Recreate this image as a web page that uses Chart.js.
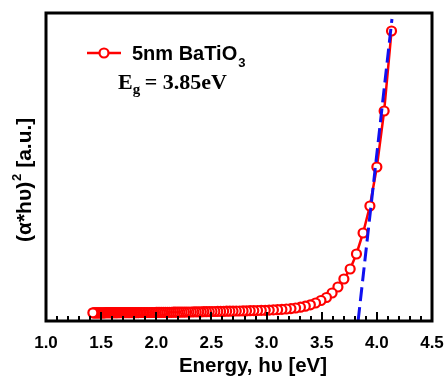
<!DOCTYPE html>
<html>
<head>
<meta charset="utf-8">
<script src="https://cdn.jsdelivr.net/npm/chart.js@4"></script>
<style>
html,body{margin:0;padding:0;background:#fff;}
#c{display:block;}
</style>
</head>
<body>
<canvas id="c" width="445" height="377"></canvas>
<script>
// Photon energy (eV), sample points
const energy = [
4.133,4.066,4.000,3.937,3.875,3.815,3.758,3.701,3.647,3.594,
3.543,3.493,3.444,3.397,3.351,3.307,3.263,3.221,3.179,3.139,
3.100,3.062,3.024,2.988,2.952,2.918,2.884,2.851,2.818,2.787,
2.756,2.725,2.696,2.667,2.638,2.611,2.583,2.557,2.531,2.505,
2.480,2.455,2.431,2.408,2.385,2.362,2.340,2.318,2.296,2.275,
2.255,2.234,2.214,2.195,2.175,2.157,2.138,2.120,2.102,2.084,
2.067,2.050,2.033,2.016,2.000,1.984,1.968,1.953,1.938,1.922,
1.908,1.893,1.879,1.865,1.851,1.837,1.824,1.810,1.797,1.784,
1.771,1.759,1.746,1.734,1.722,1.710,1.699,1.687,1.676,1.664,
1.653,1.642,1.632,1.621,1.610,1.600,1.590,1.580,1.570,1.560,
1.550,1.540,1.531,1.521,1.512,1.503,1.494,1.485,1.476,1.467,
1.459,1.450,1.442,1.434,1.425
];
// (alpha*h*nu)^2 in arbitrary units
const absorption = [
28.2,20.2,14.6,10.7,8.0,5.9,4.4,3.4,2.6,2.0,
1.55,1.25,1.0,0.82,0.68,0.58,0.5,0.44,0.4,0.36,
0.33,0.31,0.29,0.27,0.26,0.25,0.24,0.23,0.22,0.21,
0.2,0.2,0.19,0.18,0.18,0.17,0.16,0.16,0.15,0.15,
0.14,0.13,0.13,0.12,0.12,0.11,0.11,0.10,0.10,0.10,
0.09,0.09,0.09,0.08,0.08,0.08,0.07,0.07,0.07,0.07,
0.06,0.06,0.06,0.06,0.06,0.05,0.05,0.05,0.05,0.05,
0.05,0.05,0.05,0.05,0.05,0.04,0.04,0.04,0.04,0.04,
0.04,0.04,0.04,0.04,0.04,0.04,0.04,0.04,0.04,0.04,
0.03,0.03,0.03,0.03,0.03,0.03,0.03,0.03,0.03,0.03,
0.03,0.03,0.02,0.02,0.02,0.02,0.02,0.02,0.02,0.02,
0.02,0.02,0.02,0.02,0.02
];
// Linear fit (Tauc extrapolation)
const fitX = [3.83, 4.137];
const fitY = [-0.8, 29.4];
// Axis ticks
const xMajorTicks = [1.0, 1.5, 2.0, 2.5, 3.0, 3.5, 4.0, 4.5];
const xTickLabels = ['1.0','1.5','2.0','2.5','3.0','3.5','4.0','4.5'];
const seriesLabel = '5nm BaTiO';
const seriesSub = '3';
const gapText = ' = 3.85eV';
const yTitleMain = '(\u03b1*h\u03c5)';
const yTitleSup = '2';
const yTitleRest = ' [a.u.]';
const xTitle = 'Energy, h\u03c5 [eV]';

const RED = '#ff0000';
const BLUE = '#1010f0';
const SANS = '"Liberation Sans", Arial, sans-serif';
const SERIF = '"Liberation Serif", "Times New Roman", serif';

function majorIndex(v){
  for (let i=0;i<xMajorTicks.length;i++) if (Math.abs(v-xMajorTicks[i])<1e-6) return i;
  return -1;
}

const decorPlugin = {
  id: 'decor',
  afterDatasetsDraw(chart){
    const ctx = chart.ctx;
    const a = chart.chartArea;
    const xs = chart.scales.x;
    ctx.save();
    // frame
    ctx.strokeStyle = '#000';
    ctx.lineWidth = 3;
    ctx.strokeRect(a.left, a.top, a.right - a.left, a.bottom - a.top);
    // inward ticks on bottom axis
    ctx.lineWidth = 2;
    xs.ticks.forEach(t => {
      const px = Math.round(xs.getPixelForValue(t.value));
      const len = majorIndex(t.value) >= 0 ? 9 : 5;
      ctx.beginPath();
      ctx.moveTo(px, a.bottom);
      ctx.lineTo(px, a.bottom - len);
      ctx.stroke();
    });
    // legend
    ctx.strokeStyle = RED;
    ctx.lineWidth = 2.5;
    ctx.beginPath(); ctx.moveTo(87, 53); ctx.lineTo(121, 53); ctx.stroke();
    ctx.fillStyle = '#fff';
    ctx.lineWidth = 2.2;
    ctx.beginPath(); ctx.arc(104, 53, 4.5, 0, Math.PI*2); ctx.fill(); ctx.stroke();
    ctx.fillStyle = '#000';
    ctx.textBaseline = 'alphabetic';
    ctx.textAlign = 'left';
    ctx.font = 'bold 20px ' + SANS;
    ctx.fillText(seriesLabel, 132, 60);
    let w = ctx.measureText(seriesLabel).width;
    ctx.font = 'bold 13px ' + SANS;
    ctx.fillText(seriesSub, 132 + w + 1, 67);
    // Eg text
    ctx.font = 'bold 22px ' + SERIF;
    ctx.fillText('E', 118, 89);
    let ew = ctx.measureText('E').width;
    ctx.font = 'bold 15px ' + SERIF;
    ctx.fillText('g', 118 + ew, 94);
    let gw = ctx.measureText('g').width;
    ctx.font = 'bold 22px ' + SERIF;
    ctx.fillText(gapText, 118 + ew + gw - 1, 89);
    // x title
    ctx.font = 'bold 20.5px ' + SANS;
    ctx.textAlign = 'center';
    ctx.fillText(xTitle, 253, 372);
    ctx.textAlign = 'left';
    // y title
    ctx.save();
    ctx.translate(31, 242);
    ctx.rotate(-Math.PI/2);
    ctx.font = 'bold 21px ' + SANS;
    ctx.fillText(yTitleMain, 0, 0);
    let m = ctx.measureText(yTitleMain).width;
    ctx.font = 'bold 13px ' + SANS;
    ctx.fillText(yTitleSup, m + 1, -10);
    let s = ctx.measureText(yTitleSup).width;
    ctx.font = 'bold 21px ' + SANS;
    ctx.fillText(yTitleRest, m + s + 1, 0);
    ctx.restore();
    ctx.restore();
  }
};

const pts = energy.map((e,i)=>({x:e, y:absorption[i]}));
const fitPts = fitX.map((e,i)=>({x:e, y:fitY[i]}));

new Chart(document.getElementById('c'), {
  type: 'scatter',
  data: {
    datasets: [
      {
        label: 'fit',
        data: fitPts,
        showLine: true,
        borderColor: BLUE,
        borderWidth: 3,
        borderDash: [14, 6],
        pointRadius: 0,
        pointHoverRadius: 0,
        fill: false
      },
      {
        label: seriesLabel + seriesSub,
        data: pts,
        showLine: true,
        borderColor: RED,
        borderWidth: 2.5,
        pointRadius: 4.5,
        pointBorderWidth: 2.2,
        pointBorderColor: RED,
        pointBackgroundColor: '#fff',
        pointHoverRadius: 4.5,
        fill: false
      }
    ]
  },
  options: {
    responsive: false,
    animation: false,
    devicePixelRatio: 1,
    layout: { padding: { top: 13, right: 13, left: 0, bottom: 0 } },
    plugins: { legend: { display: false }, tooltip: { enabled: false } },
    scales: {
      x: {
        type: 'linear',
        min: 1.0,
        max: 4.5,
        grid: { display: false, drawTicks: false },
        border: { display: false },
        ticks: {
          stepSize: 0.1,
          autoSkip: false,
          maxRotation: 0,
          padding: 12,
          color: '#000',
          font: { family: SANS, size: 17, weight: 'bold' },
          callback: (v) => { const i = majorIndex(v); return i >= 0 ? xTickLabels[i] : ''; }
        },
        title: { display: false },
        afterFit: (s) => { s.height = 56; s.paddingRight = 0; s.paddingLeft = 0; }
      },
      y: {
        type: 'linear',
        min: -0.8,
        max: 30,
        grid: { display: false, drawTicks: false },
        border: { display: false },
        ticks: { display: false },
        afterFit: (s) => { s.width = 46; }
      }
    }
  },
  plugins: [decorPlugin]
});
</script>
</body>
</html>
